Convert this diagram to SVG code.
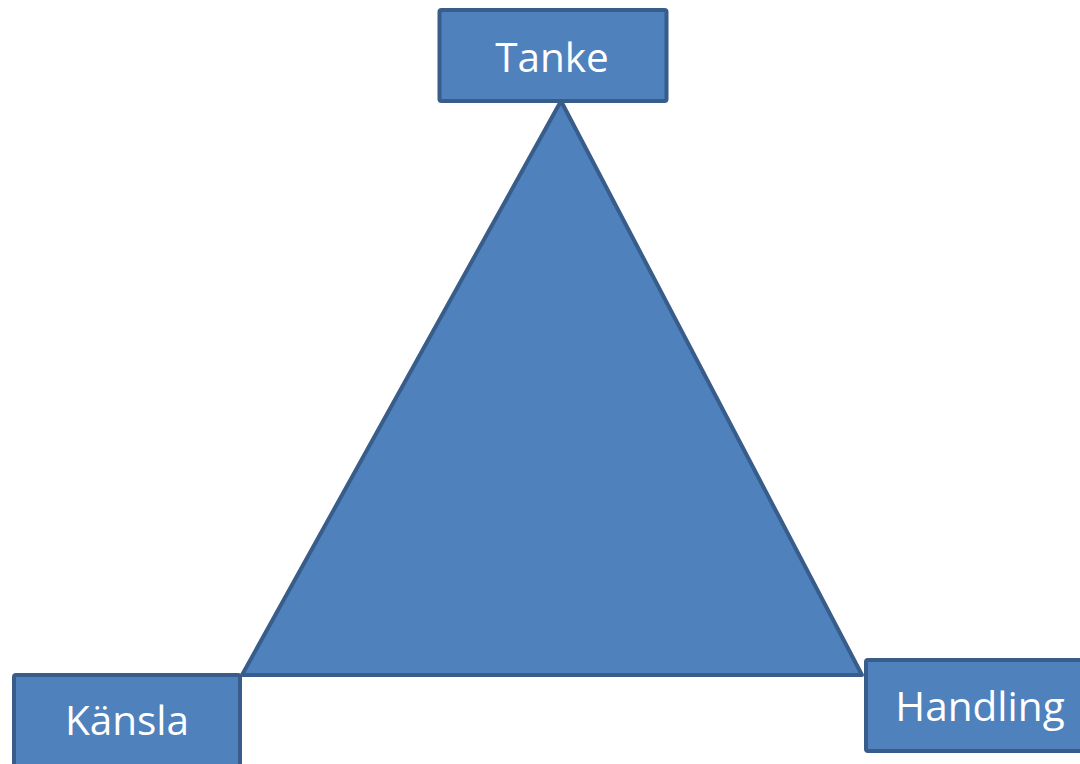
<svg xmlns="http://www.w3.org/2000/svg" width="1080" height="764" viewBox="0 0 1080 764">
<style>
.shape{fill:#4f81bd;stroke:#385d8a;stroke-width:4;stroke-linejoin:round}
.lbl{font-family:"Open Sans","Liberation Sans",sans-serif;font-size:40.5px;fill:#ffffff;text-anchor:middle}
</style>
<rect width="1080" height="764" fill="#ffffff"/>
<g id="triangle">
<polygon class="shape" points="561,101 242,675 862,675"/>
</g>
<g id="connectors"></g>
<g id="tanke">
<rect class="shape" x="439.5" y="10" width="227" height="91" rx="2"/>
<text class="lbl" x="552" y="72">Tanke</text>
</g>
<g id="kansla">
<rect class="shape" x="14" y="675" width="226" height="96" rx="2"/>
<text class="lbl" x="127" y="735">Känsla</text>
</g>
<g id="handling">
<rect class="shape" x="866" y="660" width="220" height="91" rx="2"/>
<text class="lbl" x="980" y="721">Handling</text>
</g>
</svg>
